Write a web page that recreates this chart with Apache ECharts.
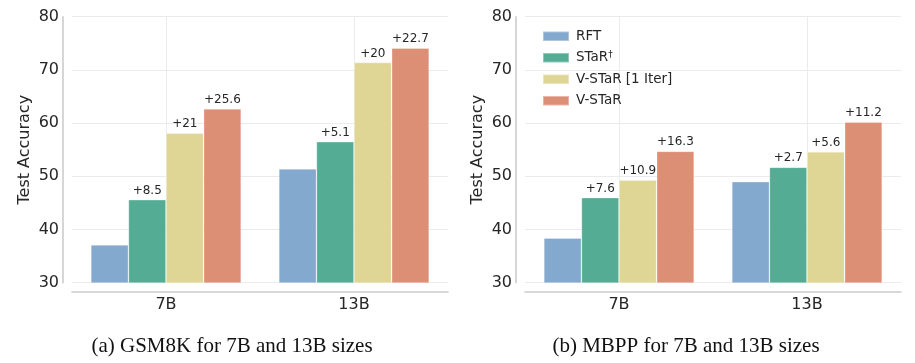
<!DOCTYPE html>
<html>
<head>
<meta charset="utf-8">
<script src="https://cdn.jsdelivr.net/npm/echarts@6/dist/echarts.min.js"></script>
<style>
html,body{margin:0;padding:0;background:#fff;}
#chart{width:915px;height:363px;}
</style>
</head>
<body>
<div id="chart"></div>
<script>
// ---- data ----
var categories = ['7B', '13B'];
var seriesNames = ['RFT', 'STaR\u2020', 'V-STaR [1 Iter]', 'V-STaR'];
var colors = ['#84a9cf', '#55ac94', '#dfd595', '#dd8f75'];

// (a) GSM8K
var gsmRFT    = [37.1, 51.4];
var gsmSTaR   = [45.6, 56.5];
var gsmVSTaR1 = [58.1, 71.4];
var gsmVSTaR  = [62.7, 74.1];
var gsmLabels = [null, ['+8.5', '+5.1'], ['+21', '+20'], ['+25.6', '+22.7']];

// (b) MBPP
var mbppRFT    = [38.4, 49.0];
var mbppSTaR   = [46.0, 51.7];
var mbppVSTaR1 = [49.3, 54.6];
var mbppVSTaR  = [54.7, 60.2];
var mbppLabels = [null, ['+7.6', '+2.7'], ['+10.9', '+5.6'], ['+16.3', '+11.2']];

var yTicks = [30, 40, 50, 60, 70, 80];
var captions = ['(a) GSM8K for 7B and 13B sizes', '(b) MBPP for 7B and 13B sizes'];

// ---- chart ----
var FONT = 'DejaVu Sans';
var TXT = '#262626';
var chart = echarts.init(document.getElementById('chart'), null, {renderer: 'canvas'});

function xAx(gi) {
  return {
    type: 'category', gridIndex: gi, data: categories, offset: 9,
    axisLine: {show: true, lineStyle: {color: '#cccccc', width: 1.6}},
    axisTick: {show: false},
    axisLabel: {fontFamily: FONT, fontSize: 16, color: TXT, margin: 5},
    splitLine: {show: true, alignWithLabel: true, lineStyle: {color: '#ebebeb', width: 1}}
  };
}
function yAx(gi) {
  return {
    type: 'value', gridIndex: gi, min: yTicks[0], max: yTicks[yTicks.length - 1], interval: 10, offset: 9,
    name: 'Test Accuracy', nameLocation: 'middle', nameGap: 30,
    nameTextStyle: {fontFamily: FONT, fontSize: 16, color: TXT},
    axisLine: {show: true, lineStyle: {color: '#cccccc', width: 1.6}},
    axisTick: {show: false},
    axisLabel: {fontFamily: FONT, fontSize: 16, color: TXT, margin: 4},
    splitLine: {show: true, lineStyle: {color: '#ebebeb', width: 1}}
  };
}
function mk(gi, arrs, labels) {
  return arrs.map(function (arr, i) {
    var s = {
      name: seriesNames[i], type: 'bar', xAxisIndex: gi, yAxisIndex: gi,
      data: arr, barGap: '0%', barCategoryGap: '20%',
      itemStyle: {color: colors[i], borderColor: 'rgba(255,255,255,0.35)', borderWidth: 0.8},
      emphasis: {disabled: true}
    };
    if (labels[i]) {
      s.label = {
        show: true, position: 'top', distance: 3,
        fontFamily: FONT, fontSize: 12, color: TXT,
        formatter: (function (lb) { return function (p) { return lb[p.dataIndex]; }; })(labels[i])
      };
    }
    return s;
  });
}

var option = {
  animation: false,
  grid: [
    {left: 72, top: 16.7, width: 376, height: 266},
    {left: 525, top: 16.7, width: 376, height: 266}
  ],
  xAxis: [xAx(0), xAx(1)],
  yAxis: [yAx(0), yAx(1)],
  legend: {
    orient: 'vertical', left: 537, top: 24,
    itemWidth: 26, itemHeight: 9.5, itemGap: 7,
    icon: 'rect',
    data: seriesNames,
    textStyle: {fontFamily: FONT, fontSize: 13.5, color: TXT, lineHeight: 14.5, padding: [0, 0, 0, 2],
      rich: {
        b: {fontFamily: FONT, fontSize: 13.5, color: TXT, lineHeight: 14.5},
        s: {fontFamily: FONT, fontSize: 9, color: TXT, verticalAlign: 'top', padding: [0, 0, 7, 0]}
      }
    },
    formatter: function (n) {
      if (n === 'STaR\u2020') return '{b|STaR}{s|\u2020}';
      return '{b|' + n + '}';
    }
  },
  graphic: [
    {type: 'text', x: 232, y: 346, style: {text: captions[0], font: '21px "Liberation Serif"', fill: '#111', align: 'center', verticalAlign: 'middle'}},
    {type: 'text', x: 686, y: 346, style: {text: captions[1], font: '21px "Liberation Serif"', fill: '#111', align: 'center', verticalAlign: 'middle'}}
  ],
  series: mk(0, [gsmRFT, gsmSTaR, gsmVSTaR1, gsmVSTaR], gsmLabels)
    .concat(mk(1, [mbppRFT, mbppSTaR, mbppVSTaR1, mbppVSTaR], mbppLabels))
};
chart.setOption(option);
</script>
</body>
</html>
